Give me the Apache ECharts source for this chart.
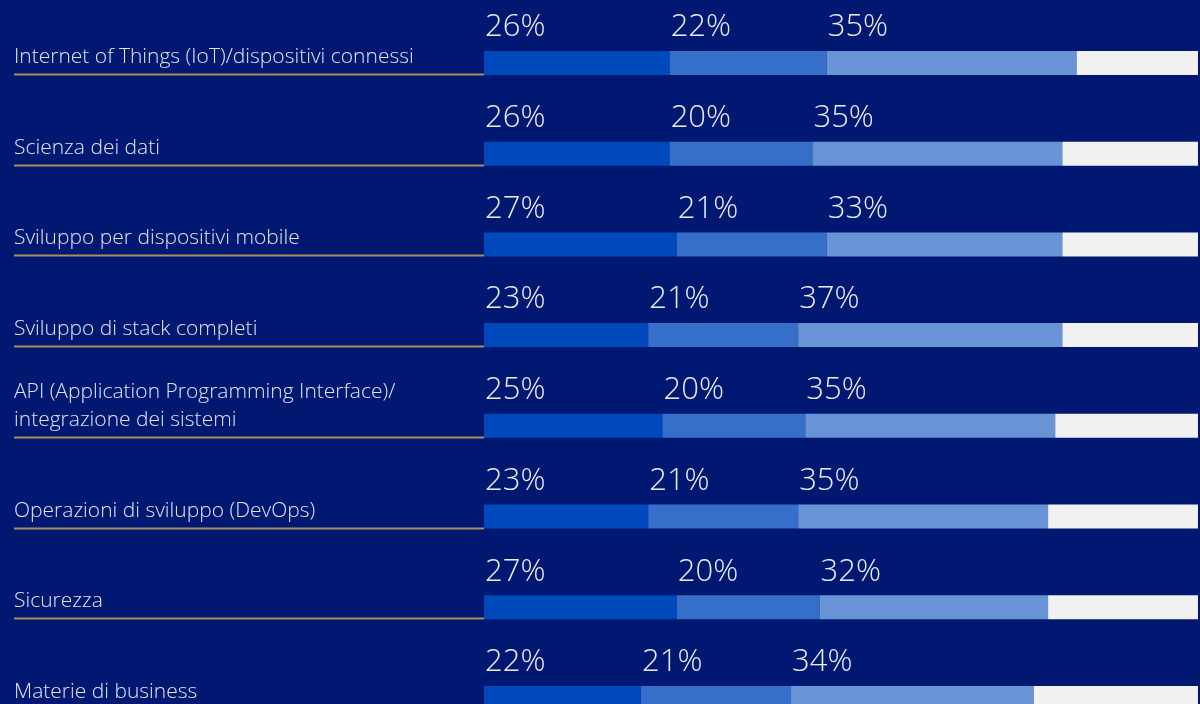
<!DOCTYPE html>
<html>
<head>
<meta charset="utf-8">
<script src="https://cdn.jsdelivr.net/npm/echarts@6/dist/echarts.min.js"></script>
<style>
  html, body { margin: 0; padding: 0; background: #001871; }
  #chart { width: 1200px; height: 704px; }
</style>
</head>
<body>
<div id="chart"></div>
<script>
// Competenze (righe) e quote percentuali dei tre livelli impilati
const categories = [
  'Internet of Things (IoT)/dispositivi connessi',
  'Scienza dei dati',
  'Sviluppo per dispositivi mobile',
  'Sviluppo di stack completi',
  'API (Application Programming Interface)/\nintegrazione dei sistemi',
  'Operazioni di sviluppo (DevOps)',
  'Sicurezza',
  'Materie di business'
];
const level1 = [26, 26, 27, 23, 25, 23, 27, 22];
const level2 = [22, 20, 21, 21, 20, 21, 20, 21];
const level3 = [35, 35, 33, 37, 35, 35, 32, 34];
// quota residua fino al 100%
const remainder = categories.map((_, i) => 100 - level1[i] - level2[i] - level3[i]);

const FONT = '"Open Sans"';
const valueLabel = {
  show: true,
  position: [1, -8],
  align: 'left',
  verticalAlign: 'bottom',
  formatter: '{c}%',
  color: '#e9edf6',
  fontFamily: FONT,
  fontWeight: 300,
  fontSize: 31
};

function segment(name, data, color, withLabel) {
  return {
    name: name,
    type: 'bar',
    stack: 'quota',
    barWidth: 24,
    data: data,
    itemStyle: { color: color },
    label: withLabel ? valueLabel : { show: false },
    silent: true,
    animation: false
  };
}

const chart = echarts.init(document.getElementById('chart'), null, { renderer: 'canvas' });
chart.setOption({
  backgroundColor: '#001871',
  animation: false,
  // l'ultima riga prosegue oltre il bordo inferiore
  grid: {
    left: 484, width: 714, top: 17.6, height: 725.7,
    containLabel: false, outerBoundsMode: 'none'
  },
  xAxis: {
    type: 'value', min: 0, max: 100,
    show: false
  },
  yAxis: {
    type: 'category',
    data: categories,
    inverse: true,
    axisLine: { show: false },
    axisTick: { show: false },
    splitLine: { show: false },
    axisLabel: {
      align: 'left',
      margin: 470,
      verticalAlign: 'bottom',
      color: '#dfe5f1',
      fontFamily: FONT,
      fontWeight: 300,
      fontSize: 21,
      lineHeight: 28,
      padding: [0, 0, -8, 0]
    }
  },
  series: [
    segment('Livello 1', level1, '#0049bd', true),
    segment('Livello 2', level2, '#356fca', true),
    segment('Livello 3', level3, '#6893d6', true),
    segment('Resto', remainder, '#f1f1f1', false),
    {
      // linea dorata sotto ogni etichetta di riga
      type: 'custom',
      silent: true,
      data: categories.map((_, i) => [0, i]),
      encode: { x: 0, y: 1 },
      renderItem: function (params, api) {
        const p = api.coord([0, api.value(1)]);
        const y = Math.round(p[1] + 12) - 0.5;
        return {
          type: 'line',
          shape: { x1: 14, y1: y, x2: p[0], y2: y },
          style: { stroke: '#a8905a', lineWidth: 2 }
        };
      }
    }
  ]
});
</script>
</body>
</html>
